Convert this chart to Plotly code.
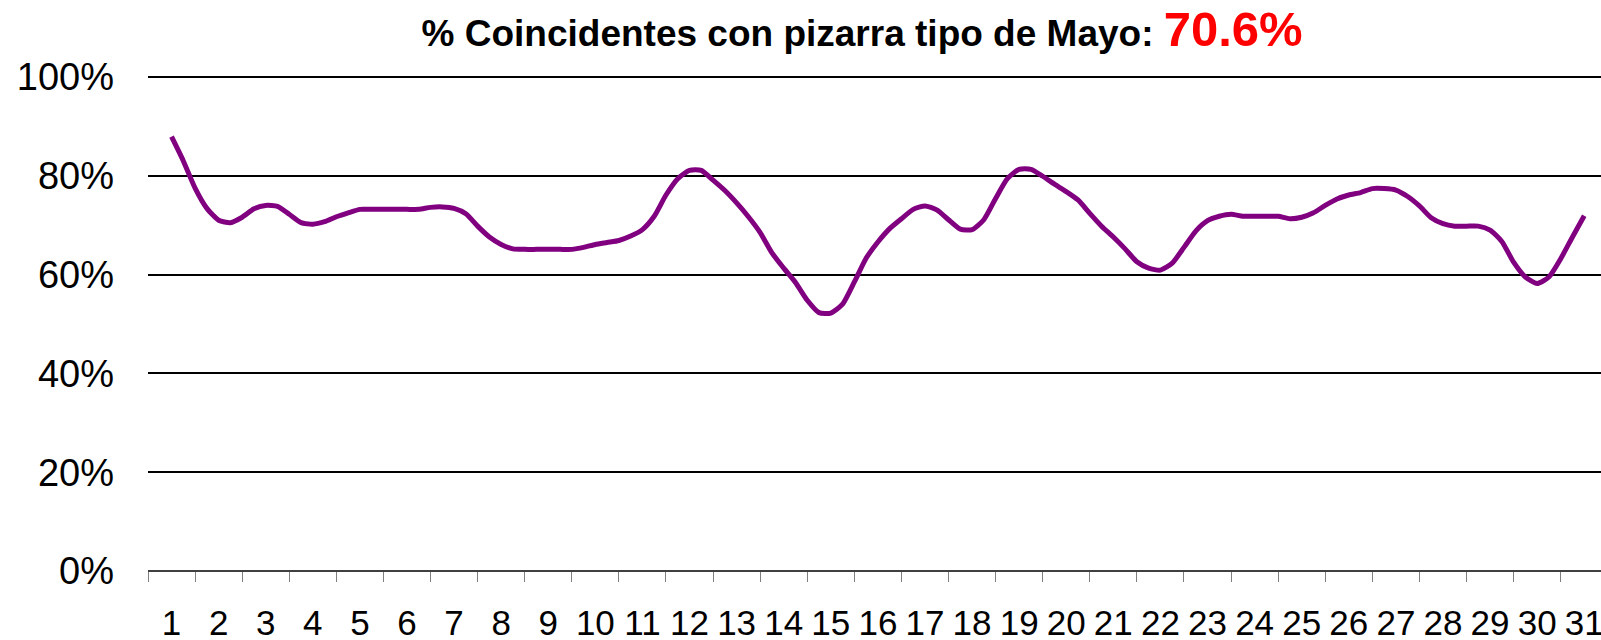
import plotly.graph_objects as go

# Days of May (category labels)
days = list(range(1, 32))
day_labels = [str(d) for d in days]

# Samples: four readings per day (day, day+0.25, day+0.5, day+0.75)
sample_days = [d + q / 4 for d in range(1, 31) for q in range(4)] + [31]

coincidence_pct = [
    87.9, 83.0, 77.5, 73.4,   # 1
    71.0, 70.5, 71.6, 73.3,   # 2
    74.0, 73.8, 72.2, 70.5,   # 3
    70.2, 70.7, 71.7, 72.5,   # 4
    73.2, 73.2, 73.2, 73.2,   # 5
    73.2, 73.2, 73.6, 73.7,   # 6
    73.4, 72.3, 69.8, 67.6,   # 7
    66.1, 65.2, 65.1, 65.1,   # 8
    65.1, 65.1, 65.1, 65.5,   # 9
    66.1, 66.5, 66.9, 67.8,   # 10
    69.1, 71.8, 76.1, 79.4,   # 11
    81.1, 81.1, 79.1, 77.0,   # 12
    74.5, 71.7, 68.5, 64.4,   # 13
    61.3, 58.4, 54.8, 52.3,   # 14
    52.2, 54.0, 58.5, 63.3,   # 15
    66.6, 69.3, 71.3, 73.2,   # 16
    73.9, 73.1, 71.1, 69.2,   # 17
    69.1, 71.1, 75.4, 79.4,   # 18
    81.3, 81.3, 79.9, 78.3,   # 19
    76.8, 75.1, 72.4, 69.8,   # 20
    67.6, 65.2, 62.6, 61.3,   # 21
    60.9, 62.3, 65.5, 68.8,   # 22
    70.9, 71.8, 72.2, 71.8,   # 23
    71.8, 71.8, 71.8, 71.3,   # 24
    71.6, 72.5, 74.0, 75.3,   # 25
    76.1, 76.6, 77.4, 77.4,   # 26
    77.1, 75.8, 73.9, 71.5,   # 27
    70.3, 69.8, 69.8, 69.8,   # 28
    69.0, 66.7, 62.5, 59.5,   # 29
    58.2, 59.5, 63.2, 67.6,   # 30
    71.9,                     # 31
]

y_ticks = [0, 0.2, 0.4, 0.6, 0.8, 1.0]
y_tick_labels = ["0%", "20%", "40%", "60%", "80%", "100%"]

title_main = "% Coincidentes con pizarra tipo de Mayo:"
title_value = "70.6%"

FONT = "Liberation Sans, Arial, sans-serif"

fig = go.Figure()
fig.add_trace(go.Scatter(
    x=sample_days,
    y=[v / 100 for v in coincidence_pct],
    mode="lines",
    line=dict(color="#800080", width=5, shape="spline", smoothing=0.6),
    hoverinfo="skip",
    showlegend=False,
))

fig.update_layout(
    width=1601,
    height=640,
    margin=dict(l=148, r=0, t=72, b=69, autoexpand=False),
    paper_bgcolor="white",
    plot_bgcolor="white",
    font=dict(family=FONT, color="black"),
    title=dict(
        text=f"<b>{title_main} <span style='font-size:49px;color:#ff0000'>{title_value}</span></b>",
        font=dict(family=FONT, size=37, color="black"),
        x=0.5385, xanchor="center", xref="container",
        y=1 - 33 / 640, yanchor="middle", yref="container",
    ),
    xaxis=dict(
        range=[0.5, 31.356],
        tickmode="array",
        tickvals=days,
        ticktext=day_labels,
        ticks="",
        ticklabelstandoff=28,
        ticklabeloverflow="allow",
        automargin=False,
        tickfont=dict(family=FONT, size=35, color="black"),
        showgrid=False,
        showline=False,
        zeroline=False,
        minor=dict(
            tickmode="array",
            tickvals=[d - 0.5 for d in days] + [31.5],
            ticks="outside",
            ticklen=10,
            tickwidth=1,
            tickcolor="#808080",
            showgrid=False,
        ),
        fixedrange=True,
    ),
    yaxis=dict(
        range=[0, 1.01],
        tickmode="array",
        tickvals=y_ticks,
        ticktext=y_tick_labels,
        ticks="",
        ticklabelstandoff=33,
        automargin=False,
        tickfont=dict(family=FONT, size=38, color="black"),
        showgrid=True,
        gridcolor="black",
        gridwidth=2,
        zeroline=True,
        zerolinecolor="#404040",
        zerolinewidth=1.5,
        showline=False,
        fixedrange=True,
    ),
)

fig.write_html(
    "out.html",
    config={"displayModeBar": False, "staticPlot": True},
    post_script="document.body.style.margin='0';document.body.style.overflow='hidden';",
)
